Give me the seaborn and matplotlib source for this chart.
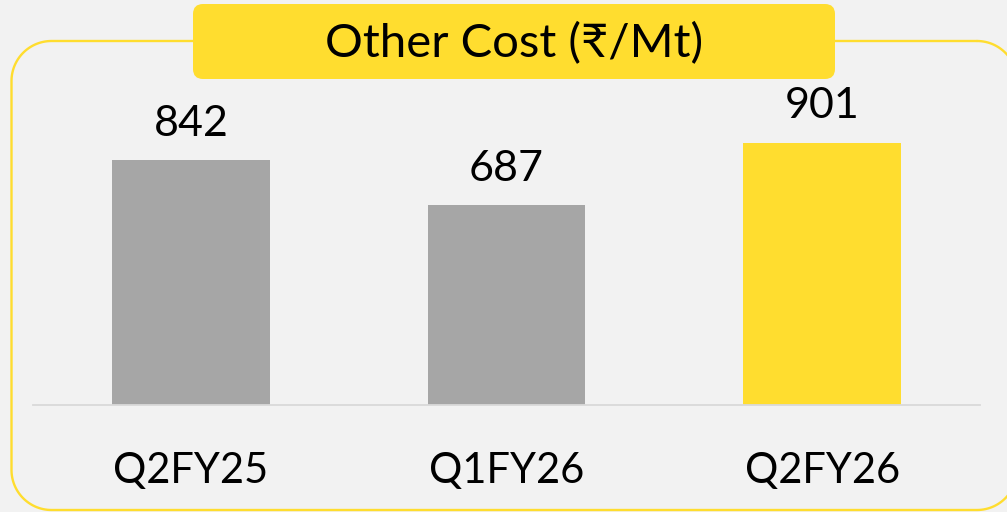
import numpy as np
import matplotlib.pyplot as plt
import seaborn as sns
from matplotlib.patches import FancyBboxPatch
from matplotlib.lines import Line2D

categories = ["Q2FY25", "Q1FY26", "Q2FY26"]
values = [842, 687, 901]
bar_colors = ["#A6A6A6", "#A6A6A6", "#FFDD2F"]
title = "Other Cost (₹/Mt)"

bg = "#F2F2F2"
yellow = "#FFDD2F"

sns.set_style("white", {"axes.facecolor": bg, "figure.facecolor": bg})
plt.rcParams["font.family"] = ["Lato", "DejaVu Sans"]

W, H = 1007, 512
fig = plt.figure(figsize=(W / 100, H / 100), dpi=100)

# axes spans baseline 33..980 px, bottom at y=405 px from top
ax_left, ax_right, ax_base, ax_top = 33, 980, 405, 80
ax = fig.add_axes([ax_left / W, (H - ax_base) / H,
                   (ax_right - ax_left) / W, (ax_base - ax_top) / H])
ax.patch.set_visible(False)

sns.barplot(x=categories, y=values, hue=categories, palette=bar_colors,
            legend=False, width=0.5, saturation=1, linewidth=0, ax=ax)

ax.set_xlim(-0.5, 2.5)
ax.set_ylim(0, (ax_base - ax_top) / 0.291)

for s in ["top", "right", "left"]:
    ax.spines[s].set_visible(False)
ax.spines["bottom"].set_color("#D9D9D9")
ax.spines["bottom"].set_linewidth(1.3)
ax.set_yticks([])
ax.set_xlabel("")
ax.set_ylabel("")
ax.tick_params(axis="x", length=0, pad=34, labelsize=30, labelcolor="black")

for i, v in enumerate(values):
    ax.annotate(f"{v}", (i, v), xytext=(0, 12.5), textcoords="offset points",
                ha="center", va="bottom", fontsize=31, color="black")


def rounded_rect(x0, y0, x1, y1, r, n=30):
    # pixel coords (y down) -> polyline in figure fraction
    pts = []
    corners = [(x1 - r, y0 + r, -90, 0), (x1 - r, y1 - r, 0, 90),
               (x0 + r, y1 - r, 90, 180), (x0 + r, y0 + r, 180, 270)]
    for cx, cy, a0, a1 in corners:
        t = np.radians(np.linspace(a0, a1, n))
        pts += list(zip(cx + r * np.cos(t), cy + r * np.sin(t)))
    pts.append(pts[0])
    xs = np.array([p[0] for p in pts]) / W
    ys = (H - np.array([p[1] for p in pts])) / H
    return xs, ys


# outer rounded frame (runs off the right edge)
xs, ys = rounded_rect(11.5, 41, 1017, 510, 40)
fig.add_artist(Line2D(xs, ys, transform=fig.transFigure, color=yellow,
                      linewidth=1.7, clip_on=False, zorder=1))

# title box
tbox = FancyBboxPatch((193 / 100, (H - 79) / 100), (835 - 193) / 100, (79 - 4) / 100,
                      boxstyle="round,pad=0,rounding_size=0.1",
                      transform=fig.dpi_scale_trans, facecolor=yellow,
                      edgecolor="none", zorder=2)
fig.patches.append(tbox)
fig.text(514 / W, (H - 57) / H, title, ha="center", va="baseline",
         fontsize=34, color="black", zorder=3)

fig.savefig("out.png", dpi=100, facecolor=bg)
